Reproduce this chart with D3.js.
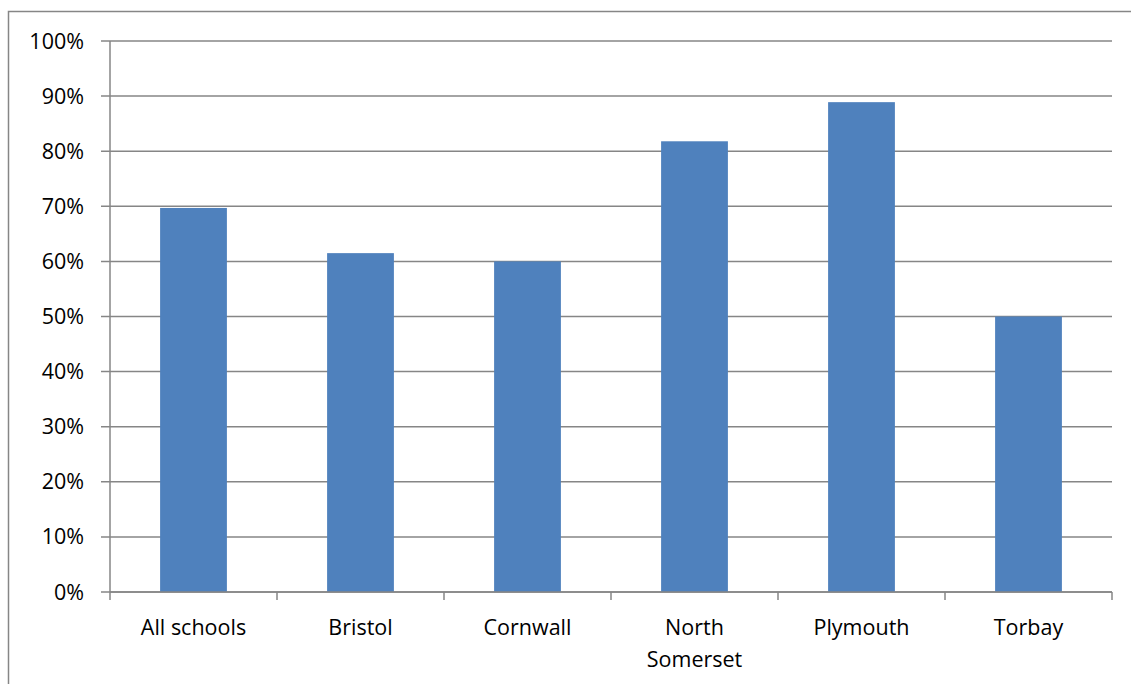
<!DOCTYPE html>
<html><head><meta charset="utf-8">
<script src="https://cdn.jsdelivr.net/npm/d3@7"></script>
<style>body{margin:0;background:#fff}svg{display:block}text{font-family:"Open Sans","Noto Sans",sans-serif;fill:#000}</style>
</head><body>
<svg id="c" width="1131" height="684"></svg>
<script>
const categories = ["All schools","Bristol","Cornwall","North Somerset","Plymouth","Torbay"];
const values = [0.697, 0.615, 0.600, 0.818, 0.889, 0.500];
const yTicks = [0,0.1,0.2,0.3,0.4,0.5,0.6,0.7,0.8,0.9,1.0];

const svg = d3.select("#c");
const L = 110, R = 1112, T = 41, B = 592;
const grid = "#868686";

svg.append("rect").attr("x",8.5).attr("y",11.5).attr("width",1140).attr("height",700)
  .attr("fill","none").attr("stroke",grid).attr("stroke-width",1.5);

const x = d3.scaleBand().domain(categories).range([L,R]).paddingInner(0.6).paddingOuter(0.3);
const xb = d3.scaleBand().domain(categories).range([L,R]);
const y = d3.scaleLinear().domain([0,1]).range([B,T]);

svg.append("g").selectAll("line").data(yTicks).join("line")
  .attr("x1",L-9).attr("x2",R).attr("y1",d=>y(d)).attr("y2",d=>y(d))
  .attr("stroke",grid).attr("stroke-width",1.5);

svg.append("g").selectAll("text").data(yTicks).join("text")
  .attr("x",84).attr("y",d=>y(d)).attr("dy","0.35em").attr("text-anchor","end")
  .attr("font-size",21.5).text(d=>d3.format(".0%")(d));

svg.append("g").selectAll("rect").data(values).join("rect")
  .attr("x",(d,i)=>x(categories[i])).attr("width",x.bandwidth())
  .attr("y",d=>y(d)).attr("height",d=>B-y(d)).attr("fill","#4F81BD");

svg.append("line").attr("x1",L).attr("x2",L).attr("y1",T).attr("y2",B).attr("stroke",grid).attr("stroke-width",1.5);
svg.append("line").attr("x1",L).attr("x2",R).attr("y1",B).attr("y2",B).attr("stroke",grid).attr("stroke-width",1.5);
const tickXs = categories.map(c=>xb(c)).concat([R]);
svg.append("g").selectAll("line").data(tickXs).join("line")
  .attr("x1",d=>d).attr("x2",d=>d).attr("y1",B).attr("y2",B+8).attr("stroke",grid).attr("stroke-width",1.5);

const xl = svg.append("g").selectAll("text").data(categories).join("text")
  .attr("x",d=>xb(d)+xb.bandwidth()/2).attr("y",635).attr("text-anchor","middle").attr("font-size",21.5);
xl.each(function(d){
  const words = d==="North Somerset" ? ["North","Somerset"] : [d];
  const t = d3.select(this);
  words.forEach((w,i)=>t.append("tspan").attr("x",xb(d)+xb.bandwidth()/2).attr("dy",i?32:0).text(w));
});
</script>
</body></html>
